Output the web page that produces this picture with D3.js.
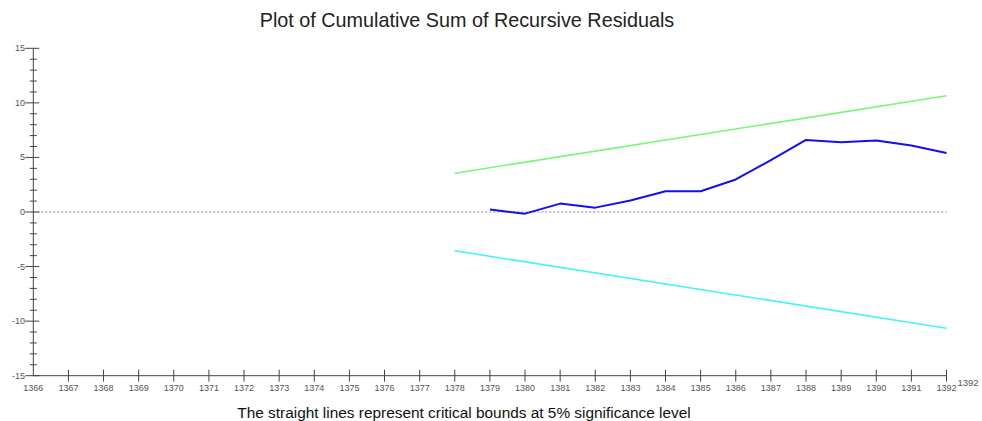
<!DOCTYPE html>
<html><head><meta charset="utf-8">
<script src="https://cdn.jsdelivr.net/npm/d3@7"></script>
<style>body{margin:0;background:#fff;}svg{display:block;font-family:"Liberation Sans",Arial,sans-serif;}</style>
</head><body>
<svg id="c" width="982" height="421"></svg>
<script>
const years = d3.range(1366, 1393);
const cusumYears = [1379,1380,1381,1382,1383,1384,1385,1386,1387,1388,1389,1390,1391,1392];
const cusumValues = [0.22,-0.15,0.77,0.4,1.05,1.9,1.9,2.98,4.75,6.6,6.4,6.55,6.1,5.4];
const boundYears = [1378, 1392];
const upperBound = [3.55, 10.65];
const lowerBound = [-3.55, -10.65];
const yMajorTicks = [15,10,5,0,-5,-10,-15];
const yMinorTicks = d3.range(-15, 16);
const title = "Plot of Cumulative Sum of Recursive Residuals";
const footer = "The straight lines represent critical bounds at 5% significance level";

const svg = d3.select("#c");
const x = d3.scaleLinear().domain([1366, 1392]).range([33.3, 946.5]);
const y = d3.scaleLinear().domain([-15, 15]).range([375.7, 48.3]);

// title
svg.append("text").attr("x", 467).attr("y", 27).attr("text-anchor", "middle")
  .attr("font-size", 19.8).attr("fill", "#222").text(title);
svg.append("text").attr("x", 464).attr("y", 418).attr("text-anchor", "middle")
  .attr("font-size", 15.4).attr("fill", "#111").text(footer);

// zero dashed line
svg.append("line").attr("x1", x(1366)).attr("x2", x(1392)).attr("y1", y(0)).attr("y2", y(0))
  .attr("stroke", "#888").attr("stroke-width", 1).attr("stroke-dasharray", "2,2");

// y axis
const ax = "#444";
svg.append("line").attr("x1", x(1366)).attr("x2", x(1366)).attr("y1", y(15)).attr("y2", y(-15))
  .attr("stroke", ax).attr("stroke-width", 1);
svg.selectAll(".ymin").data(yMinorTicks.filter(v => v % 5 !== 0)).join("line")
  .attr("x1", x(1366) - 3.5).attr("x2", x(1366) + 3.5)
  .attr("y1", d => y(d)).attr("y2", d => y(d)).attr("stroke", ax).attr("stroke-width", 1);
svg.selectAll(".ymaj").data(yMajorTicks).join("line")
  .attr("x1", x(1366) - 8).attr("x2", x(1366) + 6)
  .attr("y1", d => y(d)).attr("y2", d => y(d)).attr("stroke", ax).attr("stroke-width", 1);
svg.selectAll(".ylab").data(yMajorTicks).join("text")
  .attr("x", 25).attr("y", d => y(d) + 3).attr("text-anchor", "end")
  .attr("font-size", 9).attr("fill", "#555").text(d => d);

// x axis
svg.append("line").attr("x1", x(1366)).attr("x2", x(1392)).attr("y1", y(-15)).attr("y2", y(-15))
  .attr("stroke", ax).attr("stroke-width", 1);
svg.selectAll(".xt").data(years.slice(1)).join("line")
  .attr("x1", d => x(d)).attr("x2", d => x(d))
  .attr("y1", y(-15) - 6).attr("y2", y(-15) + 6).attr("stroke", ax).attr("stroke-width", 1);
svg.selectAll(".xlab").data(years).join("text")
  .attr("x", d => x(d)).attr("y", 391).attr("text-anchor", "middle")
  .attr("font-size", 9).attr("fill", "#555").text(d => d);
svg.append("text").attr("x", x(1392) + 11).attr("y", 386)
  .attr("font-size", 9.5).attr("fill", "#555").text("1392");

// bounds
const line = d3.line().x(d => x(d[0])).y(d => y(d[1]));
svg.append("path").attr("d", line(boundYears.map((d, i) => [d, upperBound[i]])))
  .attr("fill", "none").attr("stroke", "#77f777").attr("stroke-width", 1.6);
svg.append("path").attr("d", line(boundYears.map((d, i) => [d, lowerBound[i]])))
  .attr("fill", "none").attr("stroke", "#44f4f4").attr("stroke-width", 1.6);
svg.append("path").attr("d", line(cusumYears.map((d, i) => [d, cusumValues[i]])))
  .attr("fill", "none").attr("stroke", "#1010f0").attr("stroke-width", 2).attr("stroke-linejoin", "round");
</script>
</body></html>
